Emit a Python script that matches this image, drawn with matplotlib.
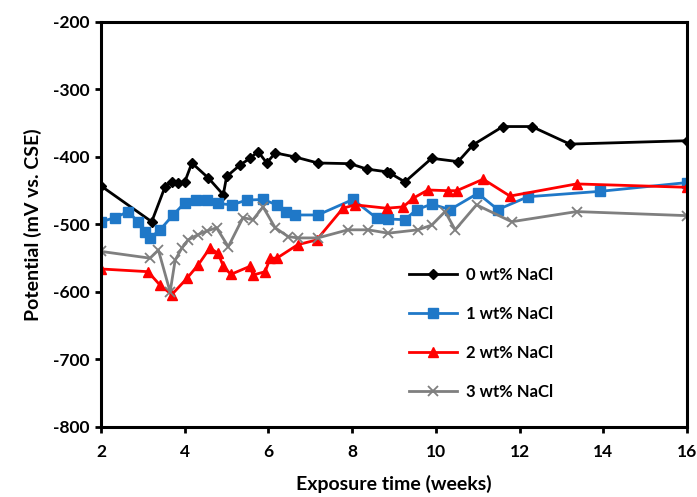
import matplotlib
matplotlib.use('Agg')
import matplotlib.pyplot as plt

plt.rcParams['font.family'] = ['Lato', 'DejaVu Sans']
plt.rcParams['font.weight'] = 'bold'
plt.rcParams['axes.unicode_minus'] = False

# 0 wt% NaCl
x0 = [2, 3.21, 3.53, 3.69, 3.84, 4.0, 4.17, 4.56, 4.92, 5.0, 5.32, 5.56, 5.75, 5.96, 6.16,
      6.63, 7.18, 7.95, 8.35, 8.82, 8.9, 9.26, 9.9, 10.53, 10.89, 11.6, 12.29, 13.2, 16]
y0 = [-443, -496, -444, -437, -438, -437, -409, -431, -456, -429, -412, -402, -392, -409, -394,
      -400, -409, -410, -418, -422, -424, -437, -402, -407, -382, -355, -355, -381, -376]

# 1 wt% NaCl
x1 = [2, 2.33, 2.65, 2.88, 3.05, 3.17, 3.41, 3.72, 4.0, 4.28, 4.52, 4.8, 5.12, 5.48, 5.87,
      6.2, 6.43, 6.63, 7.18, 8.02, 8.59, 8.86, 9.26, 9.54, 9.9, 10.34, 11.0, 11.48, 12.2, 13.92, 16]
y1 = [-496, -490, -481, -496, -511, -520, -508, -486, -468, -464, -464, -469, -471, -464, -463,
      -471, -481, -486, -486, -463, -491, -492, -493, -478, -470, -478, -454, -478, -459, -451, -438]

# 2 wt% NaCl
x2 = [2, 3.12, 3.41, 3.69, 4.05, 4.32, 4.6, 4.8, 4.92, 5.1, 5.56, 5.63, 5.92, 6.04, 6.2,
      6.7, 7.15, 7.78, 8.07, 8.82, 9.22, 9.46, 9.81, 10.29, 10.5, 11.13, 11.77, 13.36, 16]
y2 = [-566, -570, -590, -604, -580, -560, -535, -543, -562, -574, -562, -575, -570, -550, -550,
      -530, -523, -476, -471, -476, -474, -461, -449, -450, -450, -433, -458, -440, -445]

# 3 wt% NaCl
x3 = [2, 3.17, 3.37, 3.65, 3.77, 3.93, 4.08, 4.32, 4.52, 4.76, 5.04, 5.39, 5.63, 5.87, 6.16,
      6.47, 6.7, 7.18, 7.9, 8.38, 8.86, 9.57, 9.9, 10.22, 10.46, 10.97, 11.81, 13.36, 16]
y3 = [-540, -550, -538, -600, -553, -535, -523, -515, -510, -505, -533, -490, -493, -474, -505,
      -518, -520, -520, -508, -508, -513, -508, -501, -481, -508, -471, -496, -481, -487]

labels = ["0 wt% NaCl", "1 wt% NaCl", "2 wt% NaCl", "3 wt% NaCl"]

fig = plt.figure(figsize=(6.97, 4.97), dpi=100)
ax = fig.add_axes([0.145, 0.141, 0.8407, 0.8149])

ax.plot(x0, y0, color="black", lw=2, marker="D", ms=5, label=labels[0])
ax.plot(x1, y1, color="#1F78C8", lw=2, marker="s", ms=7.5, label=labels[1])
ax.plot(x2, y2, color="#FF0000", lw=2, marker="^", ms=7.5, label=labels[2])
ax.plot(x3, y3, color="#7F7F7F", lw=2, marker="x", ms=7.5, mew=1.3, label=labels[3])

ax.set_xlim(2, 16)
ax.set_ylim(-800, -200)
ax.set_xticks(range(2, 17, 2))
ax.set_yticks(range(-800, -199, 100))

for s in ax.spines.values():
    s.set_linewidth(2.2)
ax.tick_params(direction="out", length=4, width=2, labelsize=12.5)
ax.tick_params(axis="x", pad=8)
ax.tick_params(axis="y", pad=4)
for lab in ax.get_xticklabels() + ax.get_yticklabels():
    lab.set_fontweight("bold")

ax.set_xlabel("Exposure time (weeks)", fontsize=14, fontweight="bold", labelpad=11)
ax.set_ylabel("Potential (mV vs. CSE)", fontsize=14, fontweight="bold", labelpad=8)

ax.legend(loc="upper left", bbox_to_anchor=(0.5, 0.432), frameon=False,
          labelspacing=1.38, handlelength=2.9, handletextpad=0.5,
          prop={"weight": "bold", "size": 12})

plt.savefig("out.png", dpi=100)
